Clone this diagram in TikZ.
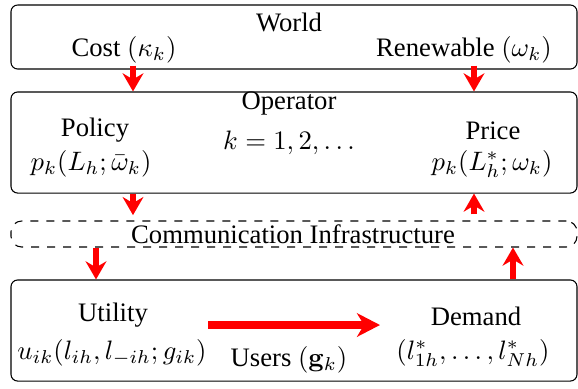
\documentclass[tikz,border=0pt]{standalone}
\usepackage[no-math]{fontspec}
\setmainfont{Liberation Serif}
\usetikzlibrary{arrows.meta}

\begin{document}
\begin{tikzpicture}[x=0.375pt, y=-0.375pt, every node/.style={inner sep=0.5pt},
		box/.style={draw, rounded corners=2.5pt, minimum width=212.25pt, inner sep=0pt},
		flow/.style={red, line width=2.1pt, -{Stealth[length=6.8pt, width=7.8pt, inset=2.3pt]}},
		bigflow/.style={red, line width=2.7pt, -{Stealth[length=8.6pt, width=8.8pt, inset=2.6pt]}}]
	\useasboundingbox (0,0) rectangle (578,388);
	% Layers
	\node[box, minimum height=24pt] (world) at (294,37) {};
	\node[box, minimum height=37.9pt] (operator) at (294,142.5) {};
	\node[box, dashed, rounded corners=4pt, minimum height=9.75pt] (comm) at (294,234) {};
	\node[box, minimum height=37.9pt] (users) at (294,330.5) {};
	% World
	\node (worldtxt) at (289,22) {World};
	\node (cost) at (124,50) {Cost $(\kappa_k)$};
	\node (renew) at (464,50) {Renewable $(\omega_k)$};
	% Operator
	\node (optxt) at (289,103) {Operator};
	\node (policy) at (95,130) {Policy};
	\node (policyfn) at (91,164) {$p_k(L_h;\bar{\omega}_k)$};
	\node (iter) at (289,143) {$k=1,2,\dots$};
	\node (price) at (493,131) {Price};
	\node (pricefn) at (492,164) {$p_k(L_h^*;\omega_k)$};
	% Communication
	\node (commtxt) at (293,234) {Communication Infrastructure};
	% Users
	\node (utility) at (113,315) {Utility};
	\node (utilityfn) at (112,353) {$u_{ik}(l_{ih},l_{-ih};g_{ik})$};
	\node (userstxt) at (289,360) {Users $(\mathbf{g}_k)$};
	\node (demand) at (476,316) {Demand};
	\node (demandfn) at (473,353) {$(l_{1h}^*,\dots,l_{Nh}^*)$};
	% Arrow columns
	\coordinate (leftcol) at (133,0);
	\coordinate (rightcol) at (474,0);
	\coordinate (downcol) at (96,0);
	\coordinate (upcol) at (513,0);
	\coordinate (userfrom) at (208,325);
	\coordinate (userto) at (380,325);
	% Arrows world
	\draw[flow] (world.south -| leftcol) ++(0,-4) -- (operator.north -| leftcol);
	\draw[flow] (world.south -| rightcol) ++(0,-4) -- (operator.north -| rightcol);
	% Arrows operator
	\draw[flow, shorten >=2pt] (operator.south -| leftcol) -- (comm.north -| leftcol);
	\draw[flow] (comm.north -| rightcol) ++(0,-6) -- (operator.south -| rightcol);
	% Arrows communication
	\draw[flow] (comm.south -| downcol) -- (users.north -| downcol);
	\draw[flow] (users.north -| upcol) -- (comm.south -| upcol);
	% Arrow users
	\draw[bigflow] (userfrom) -- (userto);
\end{tikzpicture}
\end{document}
